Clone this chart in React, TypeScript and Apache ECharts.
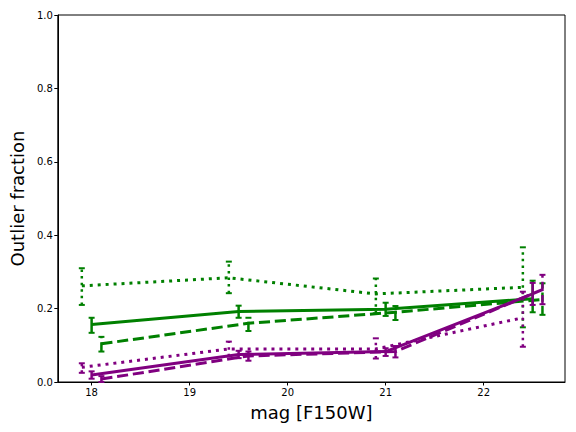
import React, { useEffect, useRef } from "react";
import * as echarts from "echarts";

// x positions (magnitude bins, offset per sample)
const xDotted = [17.9, 19.4, 20.9, 22.4];
const xSolid = [18.0, 19.5, 21.0, 22.5];
const xDashed = [18.1, 19.6, 21.1, 22.6];

// green sample
const greenDottedY = [0.262, 0.284, 0.24, 0.258];
const greenDottedLo = [0.21, 0.242, 0.187, 0.149];
const greenDottedHi = [0.31, 0.328, 0.282, 0.367];

const greenSolidY = [0.157, 0.192, 0.198, 0.227];
const greenSolidLo = [0.134, 0.175, 0.18, 0.19];
const greenSolidHi = [0.175, 0.208, 0.216, 0.276];

const greenDashedY = [0.104, 0.16, 0.19, 0.225];
const greenDashedLo = [0.083, 0.139, 0.169, 0.183];
const greenDashedHi = [0.123, 0.175, 0.207, 0.269];

// purple sample
const purpleDottedY = [0.04, 0.09, 0.09, 0.175];
const purpleDottedLo = [0.025, 0.07, 0.064, 0.096];
const purpleDottedHi = [0.051, 0.11, 0.119, 0.246];

const purpleSolidY = [0.019, 0.075, 0.083, 0.24];
const purpleSolidLo = [0.009, 0.065, 0.071, 0.21];
const purpleSolidHi = [0.029, 0.085, 0.092, 0.27];

const purpleDashedY = [0.008, 0.071, 0.083, 0.252];
const purpleDashedLo = [0.0, 0.058, 0.067, 0.212];
const purpleDashedHi = [0.016, 0.083, 0.098, 0.292];

const xTicks = [18, 19, 20, 21, 22];

const GREEN = "#008000";
const PURPLE = "#800080";

const DOTTED_LINE = [3, 4.95];
const DASHED_LINE = [11.1, 4.8];
const DOTTED_ERR = [2.5, 4.1];
const DASHED_ERR = [9.2, 4];

function makeSeries(
  name: string,
  xs: number[],
  ys: number[],
  lo: number[],
  hi: number[],
  color: string,
  lineDash: any,
  errDash: any
) {
  const lineData = xs.map((x, i) => [x, ys[i]]);
  const errData = xs.map((x, i) => [x, ys[i], lo[i], hi[i]]);
  const line = {
    name,
    type: "line",
    data: lineData,
    symbol: "none",
    lineStyle: { color, width: 3, type: lineDash, cap: "butt" },
    z: 3,
  };
  const err = {
    name: name + "-err",
    type: "custom",
    data: errData,
    encode: { x: 0, y: [2, 3] },
    z: 4,
    renderItem: (params: any, api: any) => {
      const x = api.value(0);
      const l = api.value(2);
      const h = api.value(3);
      const p1 = api.coord([x, l]);
      const p2 = api.coord([x, h]);
      const cw = 3;
      return {
        type: "group",
        children: [
          {
            type: "line",
            shape: { x1: p1[0], y1: p1[1], x2: p2[0], y2: p2[1] },
            style: { stroke: color, lineWidth: 2.5, lineDash: errDash },
          },
          {
            type: "line",
            shape: { x1: p1[0] - cw, y1: p1[1], x2: p1[0] + cw, y2: p1[1] },
            style: { stroke: color, lineWidth: 2 },
          },
          {
            type: "line",
            shape: { x1: p2[0] - cw, y1: p2[1], x2: p2[0] + cw, y2: p2[1] },
            style: { stroke: color, lineWidth: 2 },
          },
        ],
      };
    },
  };
  return [line, err];
}

export default function App() {
  const ref = useRef<HTMLDivElement>(null);
  useEffect(() => {
    if (!ref.current) return;
    const chart = echarts.init(ref.current, null, { renderer: "svg" });
    const font = "DejaVu Sans";
    const series = [
      ...makeSeries("gDot", xDotted, greenDottedY, greenDottedLo, greenDottedHi, GREEN, DOTTED_LINE, DOTTED_ERR),
      ...makeSeries("gSol", xSolid, greenSolidY, greenSolidLo, greenSolidHi, GREEN, "solid", "solid"),
      ...makeSeries("gDash", xDashed, greenDashedY, greenDashedLo, greenDashedHi, GREEN, DASHED_LINE, DASHED_ERR),
      ...makeSeries("pDot", xDotted, purpleDottedY, purpleDottedLo, purpleDottedHi, PURPLE, DOTTED_LINE, DOTTED_ERR),
      ...makeSeries("pSol", xSolid, purpleSolidY, purpleSolidLo, purpleSolidHi, PURPLE, "solid", "solid"),
      ...makeSeries("pDash", xDashed, purpleDashedY, purpleDashedLo, purpleDashedHi, PURPLE, DASHED_LINE, DASHED_ERR),
    ];
    chart.setOption({
      animation: false,
      backgroundColor: "#ffffff",
      grid: {
        left: 55.5,
        right: 11,
        top: 15,
        bottom: 50,
        show: true,
        borderColor: "#000",
        borderWidth: 1,
        backgroundColor: "transparent",
      },
      xAxis: {
        type: "value",
        min: 17.655,
        max: 22.83,
        name: "mag [F150W]",
        nameLocation: "middle",
        nameGap: 21,
        nameTextStyle: { fontFamily: font, fontSize: 18, color: "#000" },
        axisLine: { show: true, onZero: false, lineStyle: { color: "#000", width: 1 } },
        axisTick: {
          show: true,
          inside: false,
          length: 3.5,
          customValues: xTicks,
          lineStyle: { color: "#000", width: 1 },
        },
        axisLabel: {
          customValues: xTicks,
          fontFamily: font,
          fontSize: 10,
          color: "#000",
          margin: 5,
        },
        splitLine: { show: false },
      },
      yAxis: {
        type: "value",
        min: 0,
        max: 1,
        interval: 0.2,
        name: "Outlier fraction",
        nameLocation: "middle",
        nameGap: 29,
        nameTextStyle: { fontFamily: font, fontSize: 18, color: "#000" },
        axisLine: { show: true, lineStyle: { color: "#000", width: 1 } },
        axisTick: { show: true, inside: false, length: 3.5, lineStyle: { color: "#000", width: 1 } },
        axisLabel: {
          fontFamily: font,
          fontSize: 10,
          color: "#000",
          margin: 5,
          formatter: (v: number) => v.toFixed(1),
        },
        splitLine: { show: false },
      },
      series,
    });
    return () => chart.dispose();
  }, []);
  return (
    <div
      ref={ref}
      style={{ position: "fixed", left: 0, top: 0, width: 576, height: 432, background: "#fff" }}
    />
  );
}
